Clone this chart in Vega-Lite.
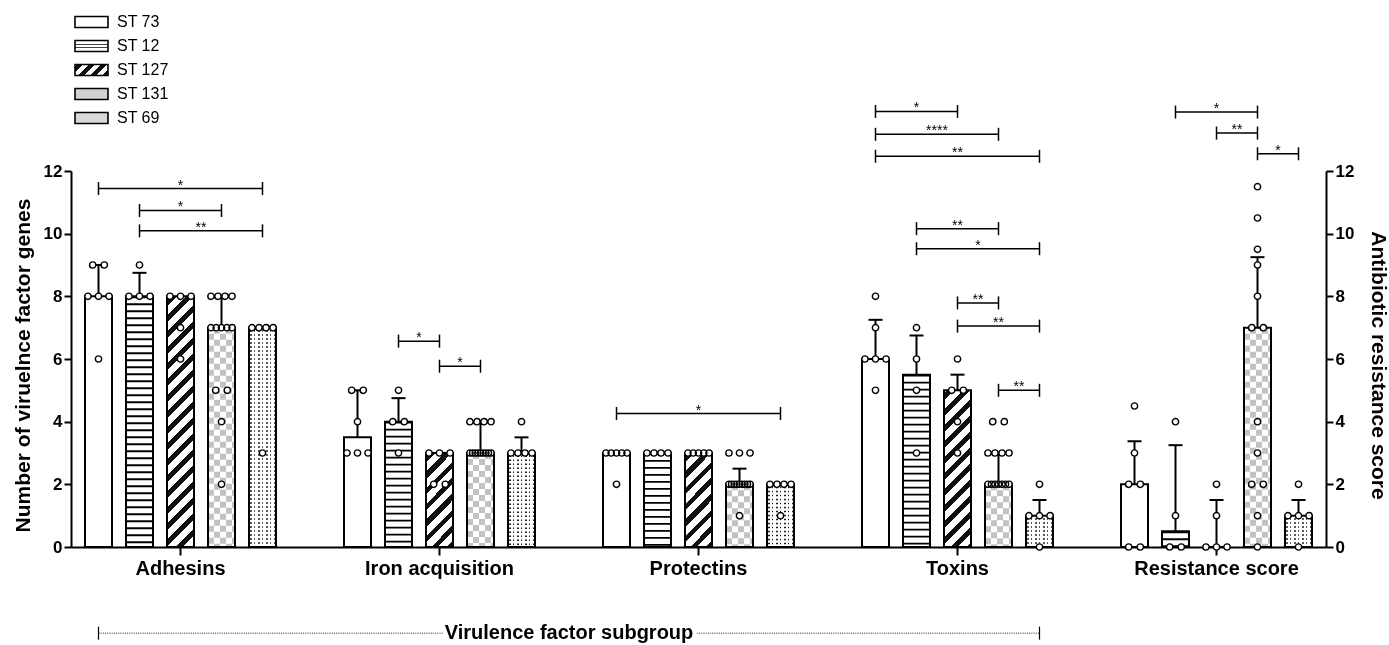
{
"$schema":"https://vega.github.io/schema/vega-lite/v6.json",
"width":1255,"height":376,
"autosize":{"type":"none"},
"padding":{"left":71,"top":171,"right":63,"bottom":98},
"background":"white",
"config":{
 "view":{"stroke":null},
 "font":"Liberation Sans",
 "axis":{"grid":false,"domainColor":"black","tickColor":"black","labelColor":"black","titleColor":"black"},
 "axisX":{"domainWidth":2,"tickWidth":2,"tickSize":8,"labelFontSize":20,"labelFontWeight":"bold","labelPadding":3,"labelAngle":0},
 "axisY":{"domainWidth":2,"tickWidth":2,"tickSize":7,"labelFontSize":17,"labelFontWeight":"bold","labelPadding":2,"titleFontSize":21,"titleFontWeight":"bold"}
},
"datasets":{
"bars":[
{"g":"Adhesins","s":"ST 73","m":8,"q":9},
{"g":"Adhesins","s":"ST 12","m":8,"q":8.75},
{"g":"Adhesins","s":"ST 127","m":8,"q":8},
{"g":"Adhesins","s":"ST 131","m":7,"q":8},
{"g":"Adhesins","s":"ST 69","m":7,"q":7},
{"g":"Iron acquisition","s":"ST 73","m":3.5,"q":5},
{"g":"Iron acquisition","s":"ST 12","m":4,"q":4.75},
{"g":"Iron acquisition","s":"ST 127","m":3,"q":3},
{"g":"Iron acquisition","s":"ST 131","m":3,"q":4},
{"g":"Iron acquisition","s":"ST 69","m":3,"q":3.5},
{"g":"Protectins","s":"ST 73","m":3,"q":3},
{"g":"Protectins","s":"ST 12","m":3,"q":3},
{"g":"Protectins","s":"ST 127","m":3,"q":3},
{"g":"Protectins","s":"ST 131","m":2,"q":2.5},
{"g":"Protectins","s":"ST 69","m":2,"q":2},
{"g":"Toxins","s":"ST 73","m":6,"q":7.25},
{"g":"Toxins","s":"ST 12","m":5.5,"q":6.75},
{"g":"Toxins","s":"ST 127","m":5,"q":5.5},
{"g":"Toxins","s":"ST 131","m":2,"q":3},
{"g":"Toxins","s":"ST 69","m":1,"q":1.5},
{"g":"Resistance score","s":"ST 73","m":2,"q":3.375},
{"g":"Resistance score","s":"ST 12","m":0.5,"q":3.25},
{"g":"Resistance score","s":"ST 127","m":0,"q":1.5},
{"g":"Resistance score","s":"ST 131","m":7,"q":9.25},
{"g":"Resistance score","s":"ST 69","m":1,"q":1.5}
],
"pts":[
{"g":"Adhesins","s":"ST 73","v":9},{"g":"Adhesins","s":"ST 73","v":9},{"g":"Adhesins","s":"ST 73","v":8},{"g":"Adhesins","s":"ST 73","v":8},{"g":"Adhesins","s":"ST 73","v":8},{"g":"Adhesins","s":"ST 73","v":6},
{"g":"Adhesins","s":"ST 12","v":9},{"g":"Adhesins","s":"ST 12","v":8},{"g":"Adhesins","s":"ST 12","v":8},{"g":"Adhesins","s":"ST 12","v":8},
{"g":"Adhesins","s":"ST 127","v":8},{"g":"Adhesins","s":"ST 127","v":8},{"g":"Adhesins","s":"ST 127","v":8},{"g":"Adhesins","s":"ST 127","v":7},{"g":"Adhesins","s":"ST 127","v":6},
{"g":"Adhesins","s":"ST 131","v":8},{"g":"Adhesins","s":"ST 131","v":8},{"g":"Adhesins","s":"ST 131","v":8},{"g":"Adhesins","s":"ST 131","v":8},{"g":"Adhesins","s":"ST 131","v":7},{"g":"Adhesins","s":"ST 131","v":7},{"g":"Adhesins","s":"ST 131","v":7},{"g":"Adhesins","s":"ST 131","v":7},{"g":"Adhesins","s":"ST 131","v":7},{"g":"Adhesins","s":"ST 131","v":5},{"g":"Adhesins","s":"ST 131","v":5},{"g":"Adhesins","s":"ST 131","v":4},{"g":"Adhesins","s":"ST 131","v":2},
{"g":"Adhesins","s":"ST 69","v":7},{"g":"Adhesins","s":"ST 69","v":7},{"g":"Adhesins","s":"ST 69","v":7},{"g":"Adhesins","s":"ST 69","v":7},{"g":"Adhesins","s":"ST 69","v":3},
{"g":"Iron acquisition","s":"ST 73","v":5},{"g":"Iron acquisition","s":"ST 73","v":5},{"g":"Iron acquisition","s":"ST 73","v":4},{"g":"Iron acquisition","s":"ST 73","v":3},{"g":"Iron acquisition","s":"ST 73","v":3},{"g":"Iron acquisition","s":"ST 73","v":3},
{"g":"Iron acquisition","s":"ST 12","v":5},{"g":"Iron acquisition","s":"ST 12","v":4},{"g":"Iron acquisition","s":"ST 12","v":4},{"g":"Iron acquisition","s":"ST 12","v":3},
{"g":"Iron acquisition","s":"ST 127","v":3},{"g":"Iron acquisition","s":"ST 127","v":3},{"g":"Iron acquisition","s":"ST 127","v":3},{"g":"Iron acquisition","s":"ST 127","v":2},{"g":"Iron acquisition","s":"ST 127","v":2},
{"g":"Iron acquisition","s":"ST 131","v":4},{"g":"Iron acquisition","s":"ST 131","v":4},{"g":"Iron acquisition","s":"ST 131","v":4},{"g":"Iron acquisition","s":"ST 131","v":4},{"g":"Iron acquisition","s":"ST 131","v":3},{"g":"Iron acquisition","s":"ST 131","v":3},{"g":"Iron acquisition","s":"ST 131","v":3},{"g":"Iron acquisition","s":"ST 131","v":3},{"g":"Iron acquisition","s":"ST 131","v":3},{"g":"Iron acquisition","s":"ST 131","v":3},{"g":"Iron acquisition","s":"ST 131","v":3},{"g":"Iron acquisition","s":"ST 131","v":3},{"g":"Iron acquisition","s":"ST 131","v":3},
{"g":"Iron acquisition","s":"ST 69","v":4},{"g":"Iron acquisition","s":"ST 69","v":3},{"g":"Iron acquisition","s":"ST 69","v":3},{"g":"Iron acquisition","s":"ST 69","v":3},{"g":"Iron acquisition","s":"ST 69","v":3},
{"g":"Protectins","s":"ST 73","v":3},{"g":"Protectins","s":"ST 73","v":3},{"g":"Protectins","s":"ST 73","v":3},{"g":"Protectins","s":"ST 73","v":3},{"g":"Protectins","s":"ST 73","v":3},{"g":"Protectins","s":"ST 73","v":2},
{"g":"Protectins","s":"ST 12","v":3},{"g":"Protectins","s":"ST 12","v":3},{"g":"Protectins","s":"ST 12","v":3},{"g":"Protectins","s":"ST 12","v":3},
{"g":"Protectins","s":"ST 127","v":3},{"g":"Protectins","s":"ST 127","v":3},{"g":"Protectins","s":"ST 127","v":3},{"g":"Protectins","s":"ST 127","v":3},{"g":"Protectins","s":"ST 127","v":3},
{"g":"Protectins","s":"ST 131","v":3},{"g":"Protectins","s":"ST 131","v":3},{"g":"Protectins","s":"ST 131","v":3},{"g":"Protectins","s":"ST 131","v":2},{"g":"Protectins","s":"ST 131","v":2},{"g":"Protectins","s":"ST 131","v":2},{"g":"Protectins","s":"ST 131","v":2},{"g":"Protectins","s":"ST 131","v":2},{"g":"Protectins","s":"ST 131","v":2},{"g":"Protectins","s":"ST 131","v":2},{"g":"Protectins","s":"ST 131","v":2},{"g":"Protectins","s":"ST 131","v":2},{"g":"Protectins","s":"ST 131","v":1},
{"g":"Protectins","s":"ST 69","v":2},{"g":"Protectins","s":"ST 69","v":2},{"g":"Protectins","s":"ST 69","v":2},{"g":"Protectins","s":"ST 69","v":2},{"g":"Protectins","s":"ST 69","v":1},
{"g":"Toxins","s":"ST 73","v":8},{"g":"Toxins","s":"ST 73","v":7},{"g":"Toxins","s":"ST 73","v":6},{"g":"Toxins","s":"ST 73","v":6},{"g":"Toxins","s":"ST 73","v":6},{"g":"Toxins","s":"ST 73","v":5},
{"g":"Toxins","s":"ST 12","v":7},{"g":"Toxins","s":"ST 12","v":6},{"g":"Toxins","s":"ST 12","v":5},{"g":"Toxins","s":"ST 12","v":3},
{"g":"Toxins","s":"ST 127","v":6},{"g":"Toxins","s":"ST 127","v":5},{"g":"Toxins","s":"ST 127","v":5},{"g":"Toxins","s":"ST 127","v":4},{"g":"Toxins","s":"ST 127","v":3},
{"g":"Toxins","s":"ST 131","v":4},{"g":"Toxins","s":"ST 131","v":4},{"g":"Toxins","s":"ST 131","v":3},{"g":"Toxins","s":"ST 131","v":3},{"g":"Toxins","s":"ST 131","v":3},{"g":"Toxins","s":"ST 131","v":3},{"g":"Toxins","s":"ST 131","v":2},{"g":"Toxins","s":"ST 131","v":2},{"g":"Toxins","s":"ST 131","v":2},{"g":"Toxins","s":"ST 131","v":2},{"g":"Toxins","s":"ST 131","v":2},{"g":"Toxins","s":"ST 131","v":2},{"g":"Toxins","s":"ST 131","v":2},
{"g":"Toxins","s":"ST 69","v":2},{"g":"Toxins","s":"ST 69","v":1},{"g":"Toxins","s":"ST 69","v":1},{"g":"Toxins","s":"ST 69","v":1},{"g":"Toxins","s":"ST 69","v":0},
{"g":"Resistance score","s":"ST 73","v":4.5},{"g":"Resistance score","s":"ST 73","v":3},{"g":"Resistance score","s":"ST 73","v":2},{"g":"Resistance score","s":"ST 73","v":2},{"g":"Resistance score","s":"ST 73","v":0},{"g":"Resistance score","s":"ST 73","v":0},
{"g":"Resistance score","s":"ST 12","v":4},{"g":"Resistance score","s":"ST 12","v":1},{"g":"Resistance score","s":"ST 12","v":0},{"g":"Resistance score","s":"ST 12","v":0},
{"g":"Resistance score","s":"ST 127","v":2},{"g":"Resistance score","s":"ST 127","v":1},{"g":"Resistance score","s":"ST 127","v":0},{"g":"Resistance score","s":"ST 127","v":0},{"g":"Resistance score","s":"ST 127","v":0},
{"g":"Resistance score","s":"ST 131","v":11.5},{"g":"Resistance score","s":"ST 131","v":10.5},{"g":"Resistance score","s":"ST 131","v":9.5},{"g":"Resistance score","s":"ST 131","v":9},{"g":"Resistance score","s":"ST 131","v":8},{"g":"Resistance score","s":"ST 131","v":7},{"g":"Resistance score","s":"ST 131","v":7},{"g":"Resistance score","s":"ST 131","v":4},{"g":"Resistance score","s":"ST 131","v":3},{"g":"Resistance score","s":"ST 131","v":2},{"g":"Resistance score","s":"ST 131","v":2},{"g":"Resistance score","s":"ST 131","v":1},{"g":"Resistance score","s":"ST 131","v":0},
{"g":"Resistance score","s":"ST 69","v":2},{"g":"Resistance score","s":"ST 69","v":1},{"g":"Resistance score","s":"ST 69","v":1},{"g":"Resistance score","s":"ST 69","v":1},{"g":"Resistance score","s":"ST 69","v":0}
],
"sig":[
{"g":"Adhesins","a":"ST 73","b":"ST 69","y":11.44,"t":"*"},
{"g":"Adhesins","a":"ST 12","b":"ST 131","y":10.74,"t":"*"},
{"g":"Adhesins","a":"ST 12","b":"ST 69","y":10.09,"t":"**"},
{"g":"Iron acquisition","a":"ST 12","b":"ST 127","y":6.57,"t":"*"},
{"g":"Iron acquisition","a":"ST 127","b":"ST 131","y":5.77,"t":"*"},
{"g":"Protectins","a":"ST 73","b":"ST 69","y":4.26,"t":"*"},
{"g":"Toxins","a":"ST 73","b":"ST 127","y":13.9,"t":"*"},
{"g":"Toxins","a":"ST 73","b":"ST 131","y":13.17,"t":"****"},
{"g":"Toxins","a":"ST 73","b":"ST 69","y":12.47,"t":"**"},
{"g":"Toxins","a":"ST 12","b":"ST 131","y":10.16,"t":"**"},
{"g":"Toxins","a":"ST 12","b":"ST 69","y":9.52,"t":"*"},
{"g":"Toxins","a":"ST 127","b":"ST 131","y":7.79,"t":"**"},
{"g":"Toxins","a":"ST 127","b":"ST 69","y":7.05,"t":"**"},
{"g":"Toxins","a":"ST 131","b":"ST 69","y":5.0,"t":"**"},
{"g":"Resistance score","a":"ST 12","b":"ST 131","y":13.88,"t":"*"},
{"g":"Resistance score","a":"ST 127","b":"ST 131","y":13.21,"t":"**"},
{"g":"Resistance score","a":"ST 131","b":"ST 69","y":12.55,"t":"*"}
],
"brk":[{"g":"Adhesins","s":"ST 73"},{"g":"Toxins","s":"ST 69"}],
"ttl":[{"t":"Virulence factor subgroup"}]
},
"resolve":{"scale":{"y":"shared"},"axis":{"y":"independent"}},
"layer":[
{"data":{"name":"bars"},
 "mark":{"type":"bar"},
 "encoding":{
  "x":{"field":"g","type":"nominal","title":null,"scale":{"domain":["Adhesins","Iron acquisition","Protectins","Toxins","Resistance score"],"paddingInner":0.208494,"paddingOuter":0.027027},"axis":{"labelAngle":0}},
  "xOffset":{"field":"s","type":"nominal","title":null,"scale":{"domain":["ST 73","ST 12","ST 127","ST 131","ST 69"],"paddingInner":0.341463,"paddingOuter":0.170732}},
  "y":{"field":"m","type":"quantitative","stack":null,"scale":{"domain":[0,12],"nice":false},"axis":{"orient":"left","values":[0,2,4,6,8,10,12],"title":"Number of viruelnce factor genes","titleX":-48,"titleY":194,"titleAngle":-90,"titleAlign":"center","titleBaseline":"middle"}},
  "fill":{"condition":[
   {"test":"datum.s=='ST 127'&&datum.g=='Adhesins'","value":{"gradient":"linear","x1":0,"y1":0,"x2":0.118,"y2":1.095,"stops":[
{"offset":0.0108,"color":"#fff"},{"offset":0.0108,"color":"#111"},{"offset":0.036,"color":"#111"},{"offset":0.036,"color":"#fff"},
{"offset":0.0684,"color":"#fff"},{"offset":0.0684,"color":"#111"},{"offset":0.0936,"color":"#111"},{"offset":0.0936,"color":"#fff"},
{"offset":0.1261,"color":"#fff"},{"offset":0.1261,"color":"#111"},{"offset":0.1513,"color":"#111"},{"offset":0.1513,"color":"#fff"},
{"offset":0.1837,"color":"#fff"},{"offset":0.1837,"color":"#111"},{"offset":0.2089,"color":"#111"},{"offset":0.2089,"color":"#fff"},
{"offset":0.2413,"color":"#fff"},{"offset":0.2413,"color":"#111"},{"offset":0.2665,"color":"#111"},{"offset":0.2665,"color":"#fff"},
{"offset":0.2989,"color":"#fff"},{"offset":0.2989,"color":"#111"},{"offset":0.3241,"color":"#111"},{"offset":0.3241,"color":"#fff"},
{"offset":0.3565,"color":"#fff"},{"offset":0.3565,"color":"#111"},{"offset":0.3818,"color":"#111"},{"offset":0.3818,"color":"#fff"},
{"offset":0.4142,"color":"#fff"},{"offset":0.4142,"color":"#111"},{"offset":0.4394,"color":"#111"},{"offset":0.4394,"color":"#fff"},
{"offset":0.4718,"color":"#fff"},{"offset":0.4718,"color":"#111"},{"offset":0.497,"color":"#111"},{"offset":0.497,"color":"#fff"},
{"offset":0.5294,"color":"#fff"},{"offset":0.5294,"color":"#111"},{"offset":0.5546,"color":"#111"},{"offset":0.5546,"color":"#fff"},
{"offset":0.587,"color":"#fff"},{"offset":0.587,"color":"#111"},{"offset":0.6122,"color":"#111"},{"offset":0.6122,"color":"#fff"},
{"offset":0.6447,"color":"#fff"},{"offset":0.6447,"color":"#111"},{"offset":0.6699,"color":"#111"},{"offset":0.6699,"color":"#fff"},
{"offset":0.7023,"color":"#fff"},{"offset":0.7023,"color":"#111"},{"offset":0.7275,"color":"#111"},{"offset":0.7275,"color":"#fff"},
{"offset":0.7599,"color":"#fff"},{"offset":0.7599,"color":"#111"},{"offset":0.7851,"color":"#111"},{"offset":0.7851,"color":"#fff"},
{"offset":0.8175,"color":"#fff"},{"offset":0.8175,"color":"#111"},{"offset":0.8427,"color":"#111"},{"offset":0.8427,"color":"#fff"},
{"offset":0.8752,"color":"#fff"},{"offset":0.8752,"color":"#111"},{"offset":0.9004,"color":"#111"},{"offset":0.9004,"color":"#fff"},
{"offset":0.9328,"color":"#fff"},{"offset":0.9328,"color":"#111"},{"offset":0.958,"color":"#111"},{"offset":0.958,"color":"#fff"},
{"offset":0.9904,"color":"#fff"},{"offset":0.9904,"color":"#111"},{"offset":1,"color":"#111"}]}},
   {"test":"datum.s=='ST 127'&&(datum.g=='Iron acquisition'||datum.g=='Protectins')","value":{"gradient":"linear","x1":0,"y1":0,"x2":0.3416,"y2":1.1891,"stops":[
{"offset":0.0248,"color":"#fff"},{"offset":0.0248,"color":"#111"},{"offset":0.0826,"color":"#111"},{"offset":0.0826,"color":"#fff"},
{"offset":0.157,"color":"#fff"},{"offset":0.157,"color":"#111"},{"offset":0.2149,"color":"#111"},{"offset":0.2149,"color":"#fff"},
{"offset":0.2893,"color":"#fff"},{"offset":0.2893,"color":"#111"},{"offset":0.3471,"color":"#111"},{"offset":0.3471,"color":"#fff"},
{"offset":0.4215,"color":"#fff"},{"offset":0.4215,"color":"#111"},{"offset":0.4793,"color":"#111"},{"offset":0.4793,"color":"#fff"},
{"offset":0.5537,"color":"#fff"},{"offset":0.5537,"color":"#111"},{"offset":0.6116,"color":"#111"},{"offset":0.6116,"color":"#fff"},
{"offset":0.686,"color":"#fff"},{"offset":0.686,"color":"#111"},{"offset":0.7438,"color":"#111"},{"offset":0.7438,"color":"#fff"},
{"offset":0.8182,"color":"#fff"},{"offset":0.8182,"color":"#111"},{"offset":0.876,"color":"#111"},{"offset":0.876,"color":"#fff"},
{"offset":0.9504,"color":"#fff"},{"offset":0.9504,"color":"#111"},{"offset":1,"color":"#111"}]}},
   {"test":"datum.s=='ST 127'&&datum.g=='Toxins'","value":{"gradient":"linear","x1":0,"y1":0,"x2":0.1962,"y2":1.1385,"stops":[
{"offset":0.0163,"color":"#fff"},{"offset":0.0163,"color":"#111"},{"offset":0.0544,"color":"#111"},{"offset":0.0544,"color":"#fff"},
{"offset":0.1034,"color":"#fff"},{"offset":0.1034,"color":"#111"},{"offset":0.1416,"color":"#111"},{"offset":0.1416,"color":"#fff"},
{"offset":0.1906,"color":"#fff"},{"offset":0.1906,"color":"#111"},{"offset":0.2287,"color":"#111"},{"offset":0.2287,"color":"#fff"},
{"offset":0.2777,"color":"#fff"},{"offset":0.2777,"color":"#111"},{"offset":0.3158,"color":"#111"},{"offset":0.3158,"color":"#fff"},
{"offset":0.3648,"color":"#fff"},{"offset":0.3648,"color":"#111"},{"offset":0.4029,"color":"#111"},{"offset":0.4029,"color":"#fff"},
{"offset":0.4519,"color":"#fff"},{"offset":0.4519,"color":"#111"},{"offset":0.49,"color":"#111"},{"offset":0.49,"color":"#fff"},
{"offset":0.539,"color":"#fff"},{"offset":0.539,"color":"#111"},{"offset":0.5771,"color":"#111"},{"offset":0.5771,"color":"#fff"},
{"offset":0.6261,"color":"#fff"},{"offset":0.6261,"color":"#111"},{"offset":0.6642,"color":"#111"},{"offset":0.6642,"color":"#fff"},
{"offset":0.7132,"color":"#fff"},{"offset":0.7132,"color":"#111"},{"offset":0.7514,"color":"#111"},{"offset":0.7514,"color":"#fff"},
{"offset":0.8004,"color":"#fff"},{"offset":0.8004,"color":"#111"},{"offset":0.8385,"color":"#111"},{"offset":0.8385,"color":"#fff"},
{"offset":0.8875,"color":"#fff"},{"offset":0.8875,"color":"#111"},{"offset":0.9256,"color":"#111"},{"offset":0.9256,"color":"#fff"},
{"offset":0.9746,"color":"#fff"},{"offset":0.9746,"color":"#111"},{"offset":1,"color":"#111"}]}},
   {"test":"datum.s=='ST 69'","value":{"gradient":"linear","x1":0,"y1":0,"x2":1,"y2":0,"stops":[
{"offset":0.037,"color":"#fff"},{"offset":0.037,"color":"#222"},{"offset":0.0926,"color":"#222"},{"offset":0.0926,"color":"#fff"},
{"offset":0.1852,"color":"#fff"},{"offset":0.1852,"color":"#222"},{"offset":0.2407,"color":"#222"},{"offset":0.2407,"color":"#fff"},
{"offset":0.3333,"color":"#fff"},{"offset":0.3333,"color":"#222"},{"offset":0.3889,"color":"#222"},{"offset":0.3889,"color":"#fff"},
{"offset":0.4815,"color":"#fff"},{"offset":0.4815,"color":"#222"},{"offset":0.537,"color":"#222"},{"offset":0.537,"color":"#fff"},
{"offset":0.6296,"color":"#fff"},{"offset":0.6296,"color":"#222"},{"offset":0.6852,"color":"#222"},{"offset":0.6852,"color":"#fff"},
{"offset":0.7778,"color":"#fff"},{"offset":0.7778,"color":"#222"},{"offset":0.8333,"color":"#222"},{"offset":0.8333,"color":"#fff"},
{"offset":0.9259,"color":"#fff"},{"offset":0.9259,"color":"#222"},{"offset":0.9815,"color":"#222"},{"offset":0.9815,"color":"#fff"}]}},
   {"test":"datum.s=='ST 131'","value":{"gradient":"linear","x1":0,"y1":0,"x2":1,"y2":0,"stops":[
{"offset":0,"color":"#000"},{"offset":0.2222,"color":"#000"},{"offset":0.2222,"color":"#fff"},{"offset":0.4444,"color":"#fff"},{"offset":0.4444,"color":"#000"},{"offset":0.6667,"color":"#000"},{"offset":0.6667,"color":"#fff"},{"offset":0.8889,"color":"#fff"},{"offset":0.8889,"color":"#000"},{"offset":1,"color":"#000"}]}}
  ],"value":"white"}
 }
},
{"data":{"name":"bars"},"transform":[{"filter":"datum.s=='ST 12'"}],
 "mark":{"type":"rule","color":"black","strokeWidth":27,"strokeDash":[1.8,5.2]},
 "encoding":{"x":{"field":"g","type":"nominal","title":null},"xOffset":{"field":"s","type":"nominal","title":null},"y":{"field":"m","type":"quantitative","axis":null},"y2":{"datum":0}}},
{"data":{"name":"bars"},"transform":[{"filter":"datum.s=='ST 69'"}],
 "mark":{"type":"rule","color":"white","strokeWidth":27,"strokeDash":[2.5,1.5]},
 "encoding":{"x":{"field":"g","type":"nominal","title":null},"xOffset":{"field":"s","type":"nominal","title":null},"y":{"field":"m","type":"quantitative","axis":null},"y2":{"datum":0}}},
{"data":{"name":"bars"},"transform":[{"filter":"datum.s=='ST 131'"}],
 "mark":{"type":"rule","color":"white","strokeWidth":27,"strokeDash":[6,6],"blend":"difference"},
 "encoding":{"x":{"field":"g","type":"nominal","title":null},"xOffset":{"field":"s","type":"nominal","title":null},"y":{"field":"m","type":"quantitative","axis":null},"y2":{"datum":0}}},
{"data":{"name":"bars"},"transform":[{"filter":"datum.s=='ST 131'"}],
 "mark":{"type":"rule","color":"white","strokeWidth":27,"opacity":0.76},
 "encoding":{"x":{"field":"g","type":"nominal","title":null},"xOffset":{"field":"s","type":"nominal","title":null},"y":{"field":"m","type":"quantitative","axis":null},"y2":{"datum":0}}},
{"data":{"name":"bars"},
 "mark":{"type":"bar","filled":false,"stroke":"black","strokeWidth":2},
 "encoding":{
  "x":{"field":"g","type":"nominal","title":null},
  "xOffset":{"field":"s","type":"nominal","title":null},
  "y":{"field":"m","type":"quantitative","stack":null,"axis":{"orient":"right","values":[0,2,4,6,8,10,12],"title":"Antibiotic resistance score","titleX":51,"titleY":194,"titleAngle":90,"titleAlign":"center","titleBaseline":"middle"}}
 }
},
{"data":{"name":"bars"},"transform":[{"filter":"false"}],
 "mark":{"type":"bar"},
 "encoding":{
  "x":{"field":"g","type":"nominal","title":null},
  "xOffset":{"field":"s","type":"nominal","title":null},
  "y":{"field":"m","type":"quantitative","stack":null,"axis":null},
  "fill":{"field":"s","type":"nominal","scale":{"domain":["ST 73","ST 12","ST 127","ST 131","ST 69"],"range":[
   "white",
   {"expr":"{gradient:'linear',x1:0,y1:0,x2:0,y2:1,stops:[{offset:0.28,color:'#fff'},{offset:0.28,color:'#444'},{offset:0.4,color:'#444'},{offset:0.4,color:'#fff'},{offset:0.6,color:'#fff'},{offset:0.6,color:'#444'},{offset:0.72,color:'#444'},{offset:0.72,color:'#fff'}]}"},
   {"expr":"{gradient:'linear',x1:0,y1:0,x2:1.2,y2:0.4,stops:[{offset:0.0455,color:'#fff'},{offset:0.0455,color:'#111'},{offset:0.1818,color:'#111'},{offset:0.1818,color:'#fff'},{offset:0.3182,color:'#fff'},{offset:0.3182,color:'#111'},{offset:0.4545,color:'#111'},{offset:0.4545,color:'#fff'},{offset:0.5909,color:'#fff'},{offset:0.5909,color:'#111'},{offset:0.7273,color:'#111'},{offset:0.7273,color:'#fff'},{offset:0.8636,color:'#fff'},{offset:0.8636,color:'#111'},{offset:1,color:'#111'}]}"},
   "#d2d2d2",
   "#d8d8d8"]},
   "legend":{"title":null,"orient":"none","legendX":8.5,"legendY":-161,"symbolType":"M-1.5,-0.5H1.5V0.5H-1.5Z","symbolSize":484,"symbolStrokeColor":"black","symbolStrokeWidth":1.6,"symbolOpacity":1,"labelFont":"Liberation Sans","labelFontSize":16,"labelColor":"black","labelOffset":13.5,"rowPadding":3,"padding":0}}
 }
},
{"data":{"name":"bars"},"transform":[{"filter":"datum.q>datum.m"}],
 "mark":{"type":"rule","color":"black","strokeWidth":2},
 "encoding":{"x":{"field":"g","type":"nominal","title":null},"xOffset":{"field":"s","type":"nominal","title":null},"y":{"field":"m","type":"quantitative","axis":null},"y2":{"field":"q"}}},
{"data":{"name":"bars"},"transform":[{"filter":"datum.q>datum.m"}],
 "mark":{"type":"tick","orient":"horizontal","color":"black","size":14,"thickness":2,"opacity":1},
 "encoding":{"x":{"field":"g","type":"nominal","title":null},"xOffset":{"field":"s","type":"nominal","title":null},"y":{"field":"q","type":"quantitative","axis":null}}},
{"data":{"name":"pts"},"transform":[{"aggregate":[{"op":"count","as":"n"}],"groupby":["g","s","v"]}],
 "mark":{"type":"point","filled":true,"fill":"white","stroke":"black","strokeWidth":1.4,"size":40,"opacity":1},
 "encoding":{"x":{"field":"g","type":"nominal","title":null},"xOffset":{"field":"s","type":"nominal","title":null},"y":{"field":"v","type":"quantitative","axis":null},
  "shape":{"field":"n","type":"ordinal","legend":null,"scale":{"domain":[1,2,3,4,5,6,7,8,9],"range":[
"M-1,0A1,1 0 1,1 1,0A1,1 0 1,1 -1,0Z",
"M-2.833,0A1,1 0 1,1 -0.833,0A1,1 0 1,1 -2.833,0ZM0.833,0A1,1 0 1,1 2.833,0A1,1 0 1,1 0.833,0Z",
"M-4.333,0A1,1 0 1,1 -2.333,0A1,1 0 1,1 -4.333,0ZM-1,0A1,1 0 1,1 1,0A1,1 0 1,1 -1,0ZM2.333,0A1,1 0 1,1 4.333,0A1,1 0 1,1 2.333,0Z",
"M-4.333,0A1,1 0 1,1 -2.333,0A1,1 0 1,1 -4.333,0ZM-2.111,0A1,1 0 1,1 -0.111,0A1,1 0 1,1 -2.111,0ZM0.111,0A1,1 0 1,1 2.111,0A1,1 0 1,1 0.111,0ZM2.333,0A1,1 0 1,1 4.333,0A1,1 0 1,1 2.333,0Z",
"M-4.333,0A1,1 0 1,1 -2.333,0A1,1 0 1,1 -4.333,0ZM-2.667,0A1,1 0 1,1 -0.667,0A1,1 0 1,1 -2.667,0ZM-1,0A1,1 0 1,1 1,0A1,1 0 1,1 -1,0ZM0.667,0A1,1 0 1,1 2.667,0A1,1 0 1,1 0.667,0ZM2.333,0A1,1 0 1,1 4.333,0A1,1 0 1,1 2.333,0Z",
"M-4.333,0A1,1 0 1,1 -2.333,0A1,1 0 1,1 -4.333,0ZM-3,0A1,1 0 1,1 -1,0A1,1 0 1,1 -3,0ZM-1.667,0A1,1 0 1,1 0.333,0A1,1 0 1,1 -1.667,0ZM-0.333,0A1,1 0 1,1 1.667,0A1,1 0 1,1 -0.333,0ZM1,0A1,1 0 1,1 3,0A1,1 0 1,1 1,0ZM2.333,0A1,1 0 1,1 4.333,0A1,1 0 1,1 2.333,0Z",
"M-4.333,0A1,1 0 1,1 -2.333,0A1,1 0 1,1 -4.333,0ZM-3.222,0A1,1 0 1,1 -1.222,0A1,1 0 1,1 -3.222,0ZM-2.111,0A1,1 0 1,1 -0.111,0A1,1 0 1,1 -2.111,0ZM-1,0A1,1 0 1,1 1,0A1,1 0 1,1 -1,0ZM0.111,0A1,1 0 1,1 2.111,0A1,1 0 1,1 0.111,0ZM1.222,0A1,1 0 1,1 3.222,0A1,1 0 1,1 1.222,0ZM2.333,0A1,1 0 1,1 4.333,0A1,1 0 1,1 2.333,0Z",
"M-4.333,0A1,1 0 1,1 -2.333,0A1,1 0 1,1 -4.333,0ZM-3.381,0A1,1 0 1,1 -1.381,0A1,1 0 1,1 -3.381,0ZM-2.429,0A1,1 0 1,1 -0.429,0A1,1 0 1,1 -2.429,0ZM-1.476,0A1,1 0 1,1 0.524,0A1,1 0 1,1 -1.476,0ZM-0.524,0A1,1 0 1,1 1.476,0A1,1 0 1,1 -0.524,0ZM0.429,0A1,1 0 1,1 2.429,0A1,1 0 1,1 0.429,0ZM1.381,0A1,1 0 1,1 3.381,0A1,1 0 1,1 1.381,0ZM2.333,0A1,1 0 1,1 4.333,0A1,1 0 1,1 2.333,0Z",
"M-4.333,0A1,1 0 1,1 -2.333,0A1,1 0 1,1 -4.333,0ZM-3.5,0A1,1 0 1,1 -1.5,0A1,1 0 1,1 -3.5,0ZM-2.667,0A1,1 0 1,1 -0.667,0A1,1 0 1,1 -2.667,0ZM-1.833,0A1,1 0 1,1 0.167,0A1,1 0 1,1 -1.833,0ZM-1,0A1,1 0 1,1 1,0A1,1 0 1,1 -1,0ZM-0.167,0A1,1 0 1,1 1.833,0A1,1 0 1,1 -0.167,0ZM0.667,0A1,1 0 1,1 2.667,0A1,1 0 1,1 0.667,0ZM1.5,0A1,1 0 1,1 3.5,0A1,1 0 1,1 1.5,0ZM2.333,0A1,1 0 1,1 4.333,0A1,1 0 1,1 2.333,0Z"
]}}}},
{"data":{"name":"sig"},"transform":[{"fold":["a","b"],"as":["end","st"]}],
 "mark":{"type":"line","color":"black","strokeWidth":1.5},
 "encoding":{"x":{"field":"g","type":"nominal","title":null},"xOffset":{"field":"st","type":"nominal","title":null},"y":{"field":"y","type":"quantitative","axis":null},"detail":[{"field":"g","type":"nominal"},{"field":"a","type":"nominal"},{"field":"b","type":"nominal"}]}},
{"data":{"name":"sig"},"transform":[{"fold":["a","b"],"as":["end","st"]}],
 "mark":{"type":"tick","orient":"vertical","color":"black","size":13,"thickness":1.5,"opacity":1},
 "encoding":{"x":{"field":"g","type":"nominal","title":null},"xOffset":{"field":"st","type":"nominal","title":null},"y":{"field":"y","type":"quantitative","axis":null}}},
{"data":{"name":"sig"},"transform":[{"filter":"(datum.a=='ST 73'&&datum.b=='ST 12')||(datum.a=='ST 12'&&datum.b=='ST 127')||(datum.a=='ST 127'&&datum.b=='ST 131')||(datum.a=='ST 131'&&datum.b=='ST 69')"}],
 "mark":{"type":"text","fontSize":14,"fill":"black","align":"center","baseline":"alphabetic","dx":20.5,"dy":1},
 "encoding":{"x":{"field":"g","type":"nominal","title":null},"xOffset":{"field":"a","type":"nominal","title":null},"y":{"field":"y","type":"quantitative","axis":null},"text":{"field":"t"}}},
{"data":{"name":"sig"},"transform":[{"filter":"(datum.a=='ST 73'&&datum.b=='ST 127')||(datum.a=='ST 12'&&datum.b=='ST 131')||(datum.a=='ST 127'&&datum.b=='ST 69')"}],
 "mark":{"type":"text","fontSize":14,"fill":"black","align":"center","baseline":"alphabetic","dx":41,"dy":1},
 "encoding":{"x":{"field":"g","type":"nominal","title":null},"xOffset":{"field":"a","type":"nominal","title":null},"y":{"field":"y","type":"quantitative","axis":null},"text":{"field":"t"}}},
{"data":{"name":"sig"},"transform":[{"filter":"(datum.a=='ST 73'&&datum.b=='ST 131')||(datum.a=='ST 12'&&datum.b=='ST 69')"}],
 "mark":{"type":"text","fontSize":14,"fill":"black","align":"center","baseline":"alphabetic","dx":61.5,"dy":1},
 "encoding":{"x":{"field":"g","type":"nominal","title":null},"xOffset":{"field":"a","type":"nominal","title":null},"y":{"field":"y","type":"quantitative","axis":null},"text":{"field":"t"}}},
{"data":{"name":"sig"},"transform":[{"filter":"datum.a=='ST 73'&&datum.b=='ST 69'"}],
 "mark":{"type":"text","fontSize":14,"fill":"black","align":"center","baseline":"alphabetic","dx":82,"dy":1},
 "encoding":{"x":{"field":"g","type":"nominal","title":null},"xOffset":{"field":"a","type":"nominal","title":null},"y":{"field":"y","type":"quantitative","axis":null},"text":{"field":"t"}}},
{"data":{"name":"brk"},
 "mark":{"type":"line","color":"#222","strokeWidth":1,"strokeDash":[1,1.2]},
 "encoding":{"x":{"field":"g","type":"nominal","title":null},"xOffset":{"field":"s","type":"nominal","title":null},"y":{"datum":-2.75,"type":"quantitative","axis":null}}},
{"data":{"name":"brk"},
 "mark":{"type":"tick","orient":"vertical","color":"black","size":13,"thickness":1.2,"opacity":1},
 "encoding":{"x":{"field":"g","type":"nominal","title":null},"xOffset":{"field":"s","type":"nominal","title":null},"y":{"datum":-2.75,"type":"quantitative","axis":null}}},
{"data":{"name":"ttl"},
 "mark":{"type":"text","fontSize":20,"fontWeight":"bold","fill":"white","stroke":"white","strokeWidth":9,"strokeJoin":"round","align":"center","baseline":"middle","dx":129.5},
 "encoding":{"x":{"datum":"Iron acquisition","type":"nominal","title":null},"y":{"datum":-2.75,"type":"quantitative","axis":null},"text":{"field":"t"}}},
{"data":{"name":"ttl"},
 "mark":{"type":"text","fontSize":20,"fontWeight":"bold","fill":"black","align":"center","baseline":"middle","dx":129.5},
 "encoding":{"x":{"datum":"Iron acquisition","type":"nominal","title":null},"y":{"datum":-2.75,"type":"quantitative","axis":null},"text":{"field":"t"}}}
]
}
